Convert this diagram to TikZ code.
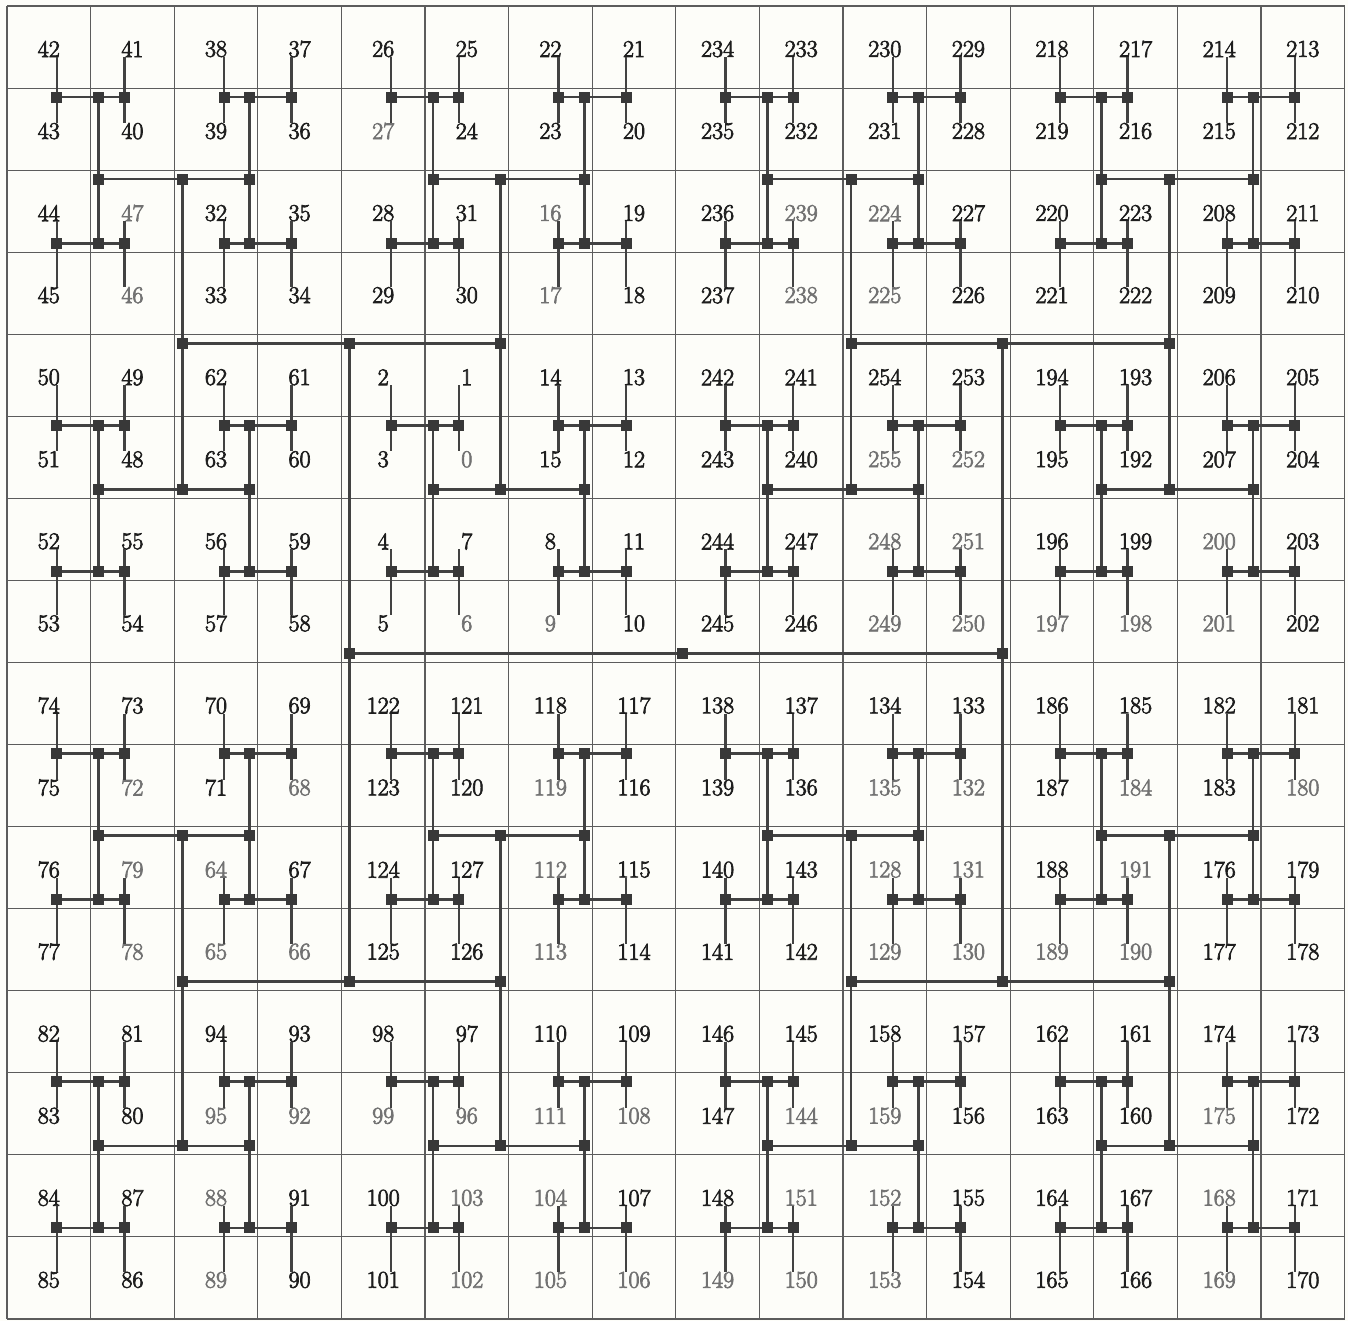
\documentclass[tikz,border=0pt]{standalone}
\definecolor{bg}{HTML}{FDFDF9}
\definecolor{gridc}{HTML}{5C5C5C}
\definecolor{wirec}{HTML}{424242}
\definecolor{markc}{HTML}{383838}
\definecolor{numdark}{HTML}{1E1E1E}
\definecolor{numgray}{HTML}{727272}
\newcommand\heavytext[1]{\special{pdf:literal direct 2 Tr 0.7 w}#1\special{pdf:literal direct 0 Tr}}
\tikzset{
  gridline/.style={draw=gridc, line width=1.1pt},
  wire/.style={draw=wirec, line width=2.7pt},
  leafwire/.style={draw=wirec, line width=2.5pt},
  marker/.style={rectangle, fill=markc, minimum size=11pt, inner sep=0pt, outer sep=0pt},
  num/.style={inner sep=0pt, font=\fontsize{24}{28}\selectfont}
}
\begin{document}
\begin{tikzpicture}[x=1pt,y=-1pt]
\fill[bg] (0,0) rectangle (1348,1321);
\useasboundingbox (0,0) rectangle (1348,1321);
% grid
\foreach \i in {0,...,16}{
  \draw[gridline] ({7+83.6*\i},6) -- ({7+83.6*\i},1319);
  \draw[gridline] (7,{6+82.06*\i}) -- (1345,{6+82.06*\i});
}
% numbers printed lighter
\foreach \g in {47,46,27,16,17,0,6,9,239,238,224,225,255,252,248,249,250,251,200,201,197,198,79,78,64,65,66,68,72,95,92,99,96,88,89,103,102,119,112,113,111,108,104,105,106,135,132,128,129,130,131,144,149,150,159,153,184,191,189,190,180,175,168,169,152,151}{
  \expandafter\gdef\csname hgray\g\endcsname{}
}
% cell numbers and leaf end points
\foreach \row [count=\r from 0] in {
  {42,41,38,37,26,25,22,21,234,233,230,229,218,217,214,213},
  {43,40,39,36,27,24,23,20,235,232,231,228,219,216,215,212},
  {44,47,32,35,28,31,16,19,236,239,224,227,220,223,208,211},
  {45,46,33,34,29,30,17,18,237,238,225,226,221,222,209,210},
  {50,49,62,61,2,1,14,13,242,241,254,253,194,193,206,205},
  {51,48,63,60,3,0,15,12,243,240,255,252,195,192,207,204},
  {52,55,56,59,4,7,8,11,244,247,248,251,196,199,200,203},
  {53,54,57,58,5,6,9,10,245,246,249,250,197,198,201,202},
  {74,73,70,69,122,121,118,117,138,137,134,133,186,185,182,181},
  {75,72,71,68,123,120,119,116,139,136,135,132,187,184,183,180},
  {76,79,64,67,124,127,112,115,140,143,128,131,188,191,176,179},
  {77,78,65,66,125,126,113,114,141,142,129,130,189,190,177,178},
  {82,81,94,93,98,97,110,109,146,145,158,157,162,161,174,173},
  {83,80,95,92,99,96,111,108,147,144,159,156,163,160,175,172},
  {84,87,88,91,100,103,104,107,148,151,152,155,164,167,168,171},
  {85,86,89,90,101,102,105,106,149,150,153,154,165,166,169,170}}{
  \foreach \v [count=\ci from 0] in \row {
    \pgfmathsetmacro\cx{7+83.6*(\ci+0.5)}
    \pgfmathsetmacro\cy{6+82.06*(\r+0.5)}
    \pgfmathsetmacro\px{\cx+8*(1-2*mod(\ci,2))}
    \pgfmathsetmacro\py{\cy+10-16*mod(\r,2)}
    \ifcsname hgray\v\endcsname\def\tcol{numgray}\else\def\tcol{numdark}\fi
    \node[num,text=\tcol] (t-\ci-\r) at (\cx,\cy+2) {\heavytext{\v}};
    \coordinate (p-\ci-\r) at (\px,\py);
  }
}
% tree node positions, levels 1..7
\foreach \k/\w/\h in {1/1/2,2/2/2,3/2/4,4/4/4,5/4/8,6/8/8,7/8/16}{
  \pgfmathtruncatemacro\na{16/\w-1}
  \pgfmathtruncatemacro\nb{16/\h-1}
  \foreach \a in {0,...,\na}{
    \foreach \b in {0,...,\nb}{
      \pgfmathsetmacro\nx{7+83.6*(\a*\w+\w/2)+8*(1-2*mod(\a,2))}
      \pgfmathsetmacro\ny{6+82.06*(\b*\h+\h/2)+9*(\k==7 ? -1 : 1-2*mod(\b,2))}
      \coordinate (n-\k-\a-\b) at (\nx,\ny);
    }
  }
}
\coordinate (n-8-0-0) at ({7+83.6*8+7},{6+82.06*8-9});
% leaf wires
\foreach \c in {0,...,15}{
  \foreach \b in {0,...,7}{
    \pgfmathtruncatemacro\ra{2*\b}
    \pgfmathtruncatemacro\rb{2*\b+1}
    \draw[leafwire] (p-\c-\ra) -- (p-\c-\rb);
  }
}
% internal wires, levels 2..8
\foreach \k/\w/\h in {2/2/2,3/2/4,4/4/4,5/4/8,6/8/8,7/8/16,8/16/16}{
  \pgfmathtruncatemacro\km{\k-1}
  \pgfmathtruncatemacro\na{16/\w-1}
  \pgfmathtruncatemacro\nb{16/\h-1}
  \foreach \a in {0,...,\na}{
    \foreach \b in {0,...,\nb}{
      \ifodd\k
        \pgfmathtruncatemacro\ba{2*\b}
        \pgfmathtruncatemacro\bb{2*\b+1}
        \draw[wire] (n-\km-\a-\ba) -- (n-\km-\a-\bb);
      \else
        \pgfmathtruncatemacro\aa{2*\a}
        \pgfmathtruncatemacro\ab{2*\a+1}
        \draw[wire] (n-\km-\aa-\b) -- (n-\km-\ab-\b);
      \fi
    }
  }
}
% markers
\foreach \k/\w/\h in {1/1/2,2/2/2,3/2/4,4/4/4,5/4/8,6/8/8,7/8/16}{
  \pgfmathtruncatemacro\na{16/\w-1}
  \pgfmathtruncatemacro\nb{16/\h-1}
  \foreach \a in {0,...,\na}{
    \foreach \b in {0,...,\nb}{
      \node[marker] (m-\k-\a-\b) at (n-\k-\a-\b) {};
    }
  }
}
\node[marker] (m-8-0-0) at (n-8-0-0) {};
\end{tikzpicture}
\end{document}
